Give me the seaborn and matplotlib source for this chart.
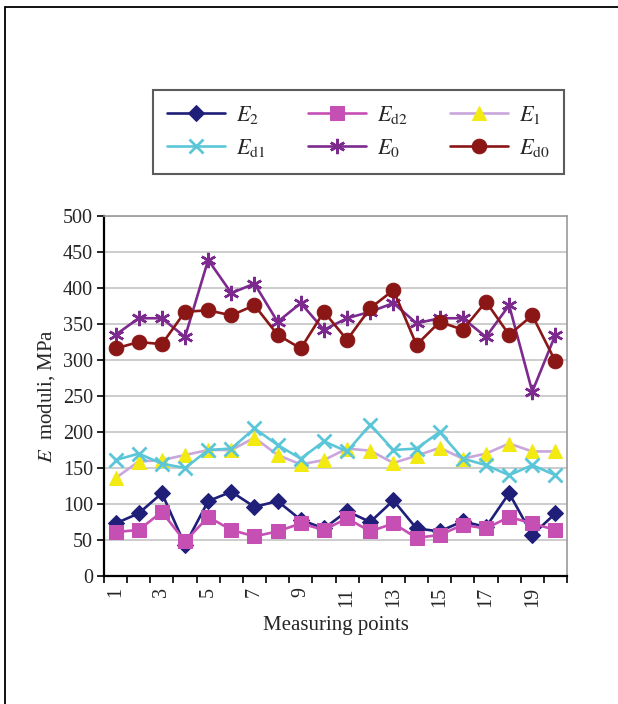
import numpy as np
import pandas as pd
import matplotlib
matplotlib.use('Agg')
import matplotlib.pyplot as plt
import matplotlib.patches as mpatches
import seaborn as sns

sns.set_style('white')
plt.rcParams['font.family'] = ['Liberation Serif', 'DejaVu Serif']
plt.rcParams['mathtext.fontset'] = 'stix'

points = np.arange(1, 21)
E2 = [73, 87, 115, 43, 104, 117, 96, 104, 78, 66, 90, 75, 105, 66, 62, 76, 68, 115, 57, 87]
Ed2 = [61, 64, 89, 48, 82, 64, 55, 62, 73, 64, 80, 62, 73, 53, 57, 71, 66, 82, 73, 64]
E1 = [136, 159, 161, 168, 175, 175, 192, 168, 155, 161, 177, 174, 157, 167, 178, 163, 170, 184, 173, 173]
Ed1 = [161, 170, 156, 150, 175, 177, 205, 182, 163, 187, 173, 210, 175, 177, 200, 163, 154, 140, 154, 140]
E0 = [335, 358, 358, 332, 439, 393, 406, 353, 379, 342, 358, 367, 379, 351, 358, 358, 332, 376, 256, 335]
Ed0 = [316, 325, 322, 367, 369, 362, 376, 335, 316, 367, 328, 372, 397, 321, 353, 342, 381, 335, 362, 298]

series = [
    ('$E_2$', E2, dict(color='#1f1f7a', marker='D', markersize=8.5, markerfacecolor='#1f1f7a', markeredgecolor='#1f1f7a')),
    ('$E_{\\rm d2}$', Ed2, dict(color='#c64fb4', marker='s', markersize=10, markerfacecolor='#c64fb4', markeredgecolor='#c64fb4')),
    ('$E_1$', E1, dict(color='#c9a6dc', marker='^', markersize=10, markerfacecolor='#f2ea12', markeredgecolor='#f2ea12')),
    ('$E_{\\rm d1}$', Ed1, dict(color='#5cc6d9', marker='x', markersize=10, markeredgewidth=2, markeredgecolor='#5cc6d9')),
    ('$E_0$', E0, dict(color='#7d2a8e', marker=(6, 2, 0), markersize=11, markeredgewidth=1.8, markeredgecolor='#7d2a8e')),
    ('$E_{\\rm d0}$', Ed0, dict(color='#8a1616', marker='o', markersize=10.5, markerfacecolor='#8a1616', markeredgecolor='#8a1616')),
]

fig = plt.figure(figsize=(6.18, 7.04), dpi=100)
ax = fig.add_axes([104/618, 1-576/704, (567-104)/618, (576-216)/704])

for name, vals, style in series:
    df = pd.DataFrame({'point': points, 'E': vals})
    sns.lineplot(data=df, x='point', y='E', ax=ax, label=name, linewidth=1.9, **style)

ax.set_xlim(0.5, 20.5)
ax.set_ylim(0, 500)
ax.set_yticks(np.arange(0, 501, 50))
ax.yaxis.grid(True, color='#c4c4c4', linewidth=1.2)
ax.set_axisbelow(True)

ax.set_xticks(np.arange(0.5, 21, 1))
ax.set_xticklabels([])
ax.set_xticks(np.arange(1, 21, 2), minor=True)
ax.set_xticklabels([str(i) for i in range(1, 21, 2)], minor=True, rotation=90, fontsize=14.5)
ax.tick_params(axis='x', which='major', direction='out', length=5, width=1.2, color='black', bottom=True)
ax.tick_params(axis='x', which='minor', length=0, pad=8)
ax.tick_params(axis='y', direction='out', length=5, width=1.2, color='black', left=True, labelsize=14.5, pad=3)

for side in ['left', 'bottom']:
    ax.spines[side].set_color('black')
    ax.spines[side].set_linewidth(1.6)
for side in ['top', 'right']:
    ax.spines[side].set_color('#9a9a9a')
    ax.spines[side].set_linewidth(1.2)

ax.set_xlabel('Measuring points', fontsize=15, labelpad=6)
ax.set_ylabel('$E$  moduli, MPa', fontsize=15, labelpad=4)

handles, labels = ax.get_legend_handles_labels()
ax.get_legend().remove()
# row-wise order like the original legend
order = [0, 3, 1, 4, 2, 5]
leg = fig.legend([handles[i] for i in order], [labels[i] for i in order], ncol=3, loc='center',
                 bbox_to_anchor=((152+565)/2/618, 1-131.5/704),
                 fontsize=16, handlelength=2.6, columnspacing=1.9,
                 frameon=True, fancybox=False, edgecolor='#333333',
                 borderpad=0.65, labelspacing=0.5, handletextpad=0.5)
leg.get_frame().set_linewidth(1.5)

# page frame (left and top edges visible)
fig.patches.append(mpatches.Rectangle((5/618, -0.1), 1.2, 1.1-7/704, transform=fig.transFigure,
                                      fill=False, edgecolor='black', linewidth=1.3))

fig.savefig('out.png', dpi=100)
